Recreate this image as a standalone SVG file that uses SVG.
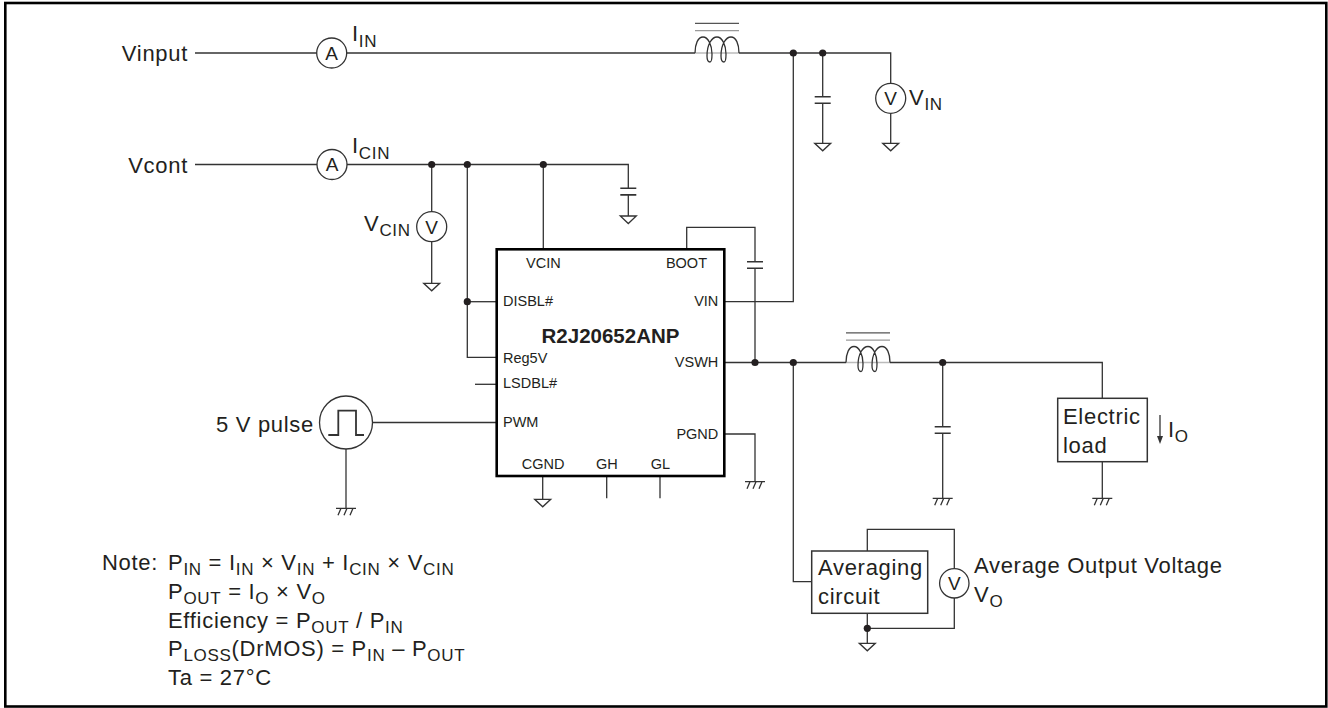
<svg xmlns="http://www.w3.org/2000/svg" width="1328" height="708" viewBox="0 0 1328 708">
<defs>
<style>
.w{fill:none;stroke:#333;stroke-width:1.3}
.t{font-family:"Liberation Sans",Arial,Helvetica,sans-serif;font-size:22px;letter-spacing:0.7px;fill:#231f20}
.s{font-size:17px}
.p{font-family:"Liberation Sans",Arial,Helvetica,sans-serif;font-size:14.5px;fill:#231f20}
.pe{text-anchor:end}
.m{font-family:"Liberation Sans",Arial,Helvetica,sans-serif;font-size:19px;fill:#231f20;text-anchor:middle}
.dot{fill:#231f20}
.meter{fill:#fff;stroke:#333;stroke-width:1.3}
.box{fill:#fff;stroke:#333;stroke-width:1.5}
</style>
<g id="gnd"><path d="M-8,0 H8 L0,7.5 Z" fill="#fff" stroke="#333" stroke-width="1.3"/></g>
<g id="cgnd"><path d="M-10,0 H10 M-5,0 L-8,7 M1,0 L-2,7 M7,0 L4,7" fill="none" stroke="#333" stroke-width="1.3"/></g>
<g id="cap"><path d="M-8,0 H8 M-8,6.6 H8" fill="none" stroke="#333" stroke-width="1.6"/></g>
<g id="coil">
<path d="M0,0 H44" stroke="#bbb" stroke-width="1.3" fill="none"/>
<path d="M0,-29.7 H44" stroke="#555" stroke-width="1.3" fill="none"/>
<path d="M0,-22.3 H44" stroke="#999" stroke-width="1.3" fill="none"/>
<path d="M0,0 C0,-9 3,-16 8,-16 C13,-16 17,-8 17,1 C17,7 16,9 15,9 C13,9 12,6 12,3 C12,-9 17,-16 22,-16 C27,-16 31,-8 31,1 C31,7 30,9 29,9 C27,9 26,6 26,3 C26,-9 31,-16 36,-16 C41,-16 44,-9 44,0" fill="none" stroke="#333" stroke-width="1.3"/>
</g>
</defs>
<rect x="0" y="0" width="1328" height="708" fill="#fff"/>
<rect id="frame" x="5.3" y="3" width="1321" height="703.5" fill="none" stroke="#000" stroke-width="2.6"/>

<g id="wires" class="w">
<path d="M195,53 H317"/>
<path d="M346.7,53 H695"/>
<path d="M739,53 H890.7 V83.3"/>
<path d="M890.7,113.3 V143.3"/>
<path d="M822.7,53 V96.7 M822.7,103.3 V143.3"/>
<path d="M793.3,53 V301.7 H724.3"/>
<path d="M195,164.5 H317"/>
<path d="M347,164.5 H628.3 V188.3 M628.3,195 V216"/>
<path d="M431.7,164.5 V211.7 M431.7,241.7 V283.3"/>
<path d="M467.3,164.5 V357.3 H496.7"/>
<path d="M467.3,301.7 H496.7"/>
<path d="M543.3,164.5 V249.3"/>
<path d="M686.7,249.3 V227.3 H755 V261.7 M755,268.3 V362.5"/>
<path d="M724.3,362.5 H846 M890,362.5 H1102.3 V398.3"/>
<path d="M1102.3,461.7 V498.3"/>
<path d="M942.7,362.5 V426.7 M942.7,433.3 V498.3"/>
<path d="M475,384.3 H496.7"/>
<path d="M372.5,422.5 H496.7"/>
<path d="M346,449 V508.3"/>
<path d="M724.3,434 H755 V481.7"/>
<path d="M542.7,476 V499.3"/>
<path d="M606.7,476 V498.3 M660,476 V498.3"/>
<path d="M793.3,362.5 V581.7 H811.7"/>
<path d="M867.3,551 V529.3 H954.3 V568.6 M954.3,598 V628.3 H867.3 M867.3,613.3 V643.3"/>
<path d="M1160,415 V437"/>
<path d="M1157,436 L1163,436 L1160,444 Z" fill="#333" stroke="none"/>
</g>

<g id="dots">
<circle class="dot" cx="431.7" cy="164.5" r="3.6"/>
<circle class="dot" cx="467.3" cy="164.5" r="3.6"/>
<circle class="dot" cx="543.3" cy="164.5" r="3.6"/>
<circle class="dot" cx="793.3" cy="53" r="3.6"/>
<circle class="dot" cx="822.7" cy="53" r="3.6"/>
<circle class="dot" cx="467.3" cy="301.7" r="3.6"/>
<circle class="dot" cx="755" cy="362.5" r="3.6"/>
<circle class="dot" cx="793.3" cy="362.5" r="3.6"/>
<circle class="dot" cx="942.7" cy="362.5" r="3.6"/>
<circle class="dot" cx="867.3" cy="628.3" r="3.6"/>
</g>

<g id="grounds">
<use href="#gnd" x="890.7" y="143.3"/>
<use href="#gnd" x="822.7" y="143.3"/>
<use href="#gnd" x="628.3" y="216"/>
<use href="#gnd" x="431.7" y="283.3"/>
<use href="#gnd" x="542.7" y="499.3"/>
<use href="#gnd" x="867.3" y="643.3"/>
<use href="#cgnd" x="346" y="508.3"/>
<use href="#cgnd" x="755" y="481.7"/>
<use href="#cgnd" x="942.7" y="498.3"/>
<use href="#cgnd" x="1102.3" y="498.3"/>
</g>

<g id="caps">
<use href="#cap" x="822.7" y="96.7"/>
<use href="#cap" x="628.3" y="188.3"/>
<use href="#cap" x="755" y="261.7"/>
<use href="#cap" x="942.7" y="426.7"/>
</g>

<g id="inductor-in"><use href="#coil" x="695" y="53"/></g>
<g id="inductor-out"><use href="#coil" x="846" y="362.5"/></g>

<g id="vinput"><text class="t" x="188" y="61" text-anchor="end">Vinput</text></g>
<g id="vcont"><text class="t" x="188" y="172.5" text-anchor="end">Vcont</text></g>

<g id="ammeter-in">
<circle class="meter" cx="331.7" cy="53" r="15"/>
<text class="m" x="331.7" y="59.8">A</text>
<text class="t" x="352" y="41">I<tspan class="s" dy="6">IN</tspan></text>
</g>
<g id="ammeter-cin">
<circle class="meter" cx="332" cy="164.5" r="15"/>
<text class="m" x="332" y="171.3">A</text>
<text class="t" x="352" y="153">I<tspan class="s" dy="6">CIN</tspan></text>
</g>
<g id="voltmeter-in">
<circle class="meter" cx="890.7" cy="98.3" r="15"/>
<text class="m" x="890.7" y="105.1">V</text>
<text class="t" x="909" y="105">V<tspan class="s" dy="5">IN</tspan></text>
</g>
<g id="voltmeter-cin">
<circle class="meter" cx="431.7" cy="226.7" r="15"/>
<text class="m" x="431.7" y="233.5">V</text>
<text class="t" x="364" y="231">V<tspan class="s" dy="5">CIN</tspan></text>
</g>

<g id="chip">
<rect x="496.7" y="249.3" width="227.6" height="226.7" fill="#fff" stroke="#000" stroke-width="2.6"/>
<text class="p" x="526" y="267.5">VCIN</text>
<text class="p pe" x="707" y="268.3">BOOT</text>
<text class="p" x="503" y="306">DISBL#</text>
<text class="p pe" x="718.3" y="306">VIN</text>
<text x="610.5" y="343.3" text-anchor="middle" font-family="Liberation Sans, Arial, Helvetica, sans-serif" font-size="20.5" font-weight="bold" fill="#231f20">R2J20652ANP</text>
<text class="p" x="503" y="362.7">Reg5V</text>
<text class="p pe" x="718.3" y="366.7">VSWH</text>
<text class="p" x="503" y="388.3">LSDBL#</text>
<text class="p" x="503" y="427.3">PWM</text>
<text class="p pe" x="718.3" y="439">PGND</text>
<text class="p" x="521.7" y="469.3">CGND</text>
<text class="p" x="596" y="469.3">GH</text>
<text class="p" x="650.7" y="469.3">GL</text>
</g>

<g id="pulse-source">
<circle class="meter" cx="346" cy="422.5" r="26.5"/>
<path d="M328.3,435 H338.3 V410.7 H356 V435 H364" fill="none" stroke="#333" stroke-width="1.8"/>
<text class="t" x="314" y="431.7" text-anchor="end">5 V pulse</text>
</g>

<g id="electric-load">
<rect class="box" x="1057.7" y="398.3" width="89.6" height="63.4"/>
<text class="t" x="1063" y="424.3">Electric</text>
<text class="t" x="1063" y="452.7">load</text>
<text class="t" x="1168" y="436.7">I<tspan class="s" dy="5">O</tspan></text>
</g>

<g id="averaging-circuit">
<rect class="box" x="811.7" y="551" width="116" height="62.3"/>
<text class="t" x="818" y="575">Averaging</text>
<text class="t" x="818" y="604">circuit</text>
</g>

<g id="voltmeter-out">
<circle class="meter" cx="954.3" cy="583.3" r="14.7"/>
<text class="m" x="954.3" y="590.1">V</text>
<text class="t" x="974" y="572.7">Average Output Voltage</text>
<text class="t" x="974" y="601.7">V<tspan class="s" dy="5">O</tspan></text>
</g>

<g id="note">
<text class="t" x="102" y="570">Note:</text>
<text class="t" x="168" y="570">P<tspan class="s" dy="5">IN</tspan><tspan dy="-5"> = I</tspan><tspan class="s" dy="5">IN</tspan><tspan dy="-5"> × V</tspan><tspan class="s" dy="5">IN</tspan><tspan dy="-5"> + I</tspan><tspan class="s" dy="5">CIN</tspan><tspan dy="-5"> × V</tspan><tspan class="s" dy="5">CIN</tspan></text>
<text class="t" x="168" y="599">P<tspan class="s" dy="5">OUT</tspan><tspan dy="-5"> = I</tspan><tspan class="s" dy="5">O</tspan><tspan dy="-5"> × V</tspan><tspan class="s" dy="5">O</tspan></text>
<text class="t" x="168" y="627.5">Efficiency = P<tspan class="s" dy="5">OUT</tspan><tspan dy="-5"> / P</tspan><tspan class="s" dy="5">IN</tspan></text>
<text class="t" x="168" y="656">P<tspan class="s" dy="5">LOSS</tspan><tspan dy="-5">(DrMOS) = P</tspan><tspan class="s" dy="5">IN</tspan><tspan dy="-5"> – P</tspan><tspan class="s" dy="5">OUT</tspan></text>
<text class="t" x="168" y="685">Ta = 27°C</text>
</g>
</svg>
